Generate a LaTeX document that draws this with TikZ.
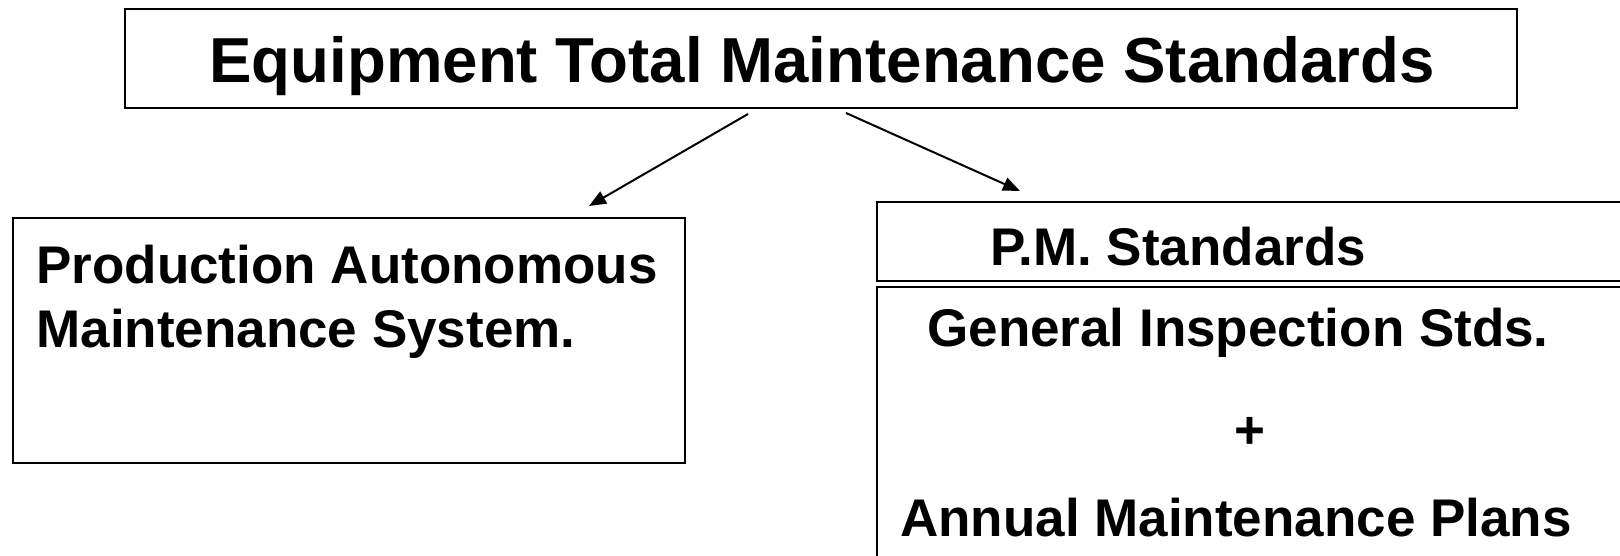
\documentclass[tikz,border=0pt]{standalone}
\usepackage{fontspec}
\setmainfont{Liberation Sans}
\usetikzlibrary{calc,positioning,arrows.meta}

\begin{document}
\begin{tikzpicture}[x=0.5pt,y=-0.5pt,
    box/.style={draw,line width=1pt,inner sep=0pt,anchor=north west},
    bigtxt/.style={font=\fontsize{31.8}{38}\selectfont\bfseries,inner sep=0pt},
    txt/.style={font=\fontsize{26.5}{32}\selectfont\bfseries,inner sep=0pt},
    arr/.style={-{Triangle[length=8.5pt,width=6.8pt]},line width=1pt}
]
\path[use as bounding box,clip] (0,0) rectangle (1620,556);

% top box
\node[box,minimum width=696pt,minimum height=49.5pt] (tbox) at (124,8) {};
\node[bigtxt,anchor=base] (title) at (822,83) {Equipment Total Maintenance Standards};

% left box
\node[box,minimum width=336pt,minimum height=122.5pt] (lbox) at (12,217) {};
\node[txt,anchor=north west,align=left] (ltext) at (36,245) {Production Autonomous\\Maintenance System.};

% right box
\node[box,minimum width=400pt,minimum height=200pt] (rbox) at (876,201) {};
\draw[line width=1pt,double,double distance=2pt] (876,284) -- (1676,284);
\node[txt,anchor=base] (pmstd) at (1178,265) {P.M. Standards};
\node[txt,anchor=base] (geninsp) at (1238,346) {General Inspection Stds.};
\node[txt,anchor=base] (plus) at (1250,448) {+};
\node[txt,anchor=base] (annual) at (1236,536) {Annual Maintenance Plans};

% arrows
\draw[arr] ($(tbox.south)+(-73,5)$) -- ($(lbox.north)+(240,-11)$);
\draw[arr] ($(tbox.south)+(25,4)$) -- ($(rbox.north west)+(144,-10)$);
\end{tikzpicture}
\end{document}
